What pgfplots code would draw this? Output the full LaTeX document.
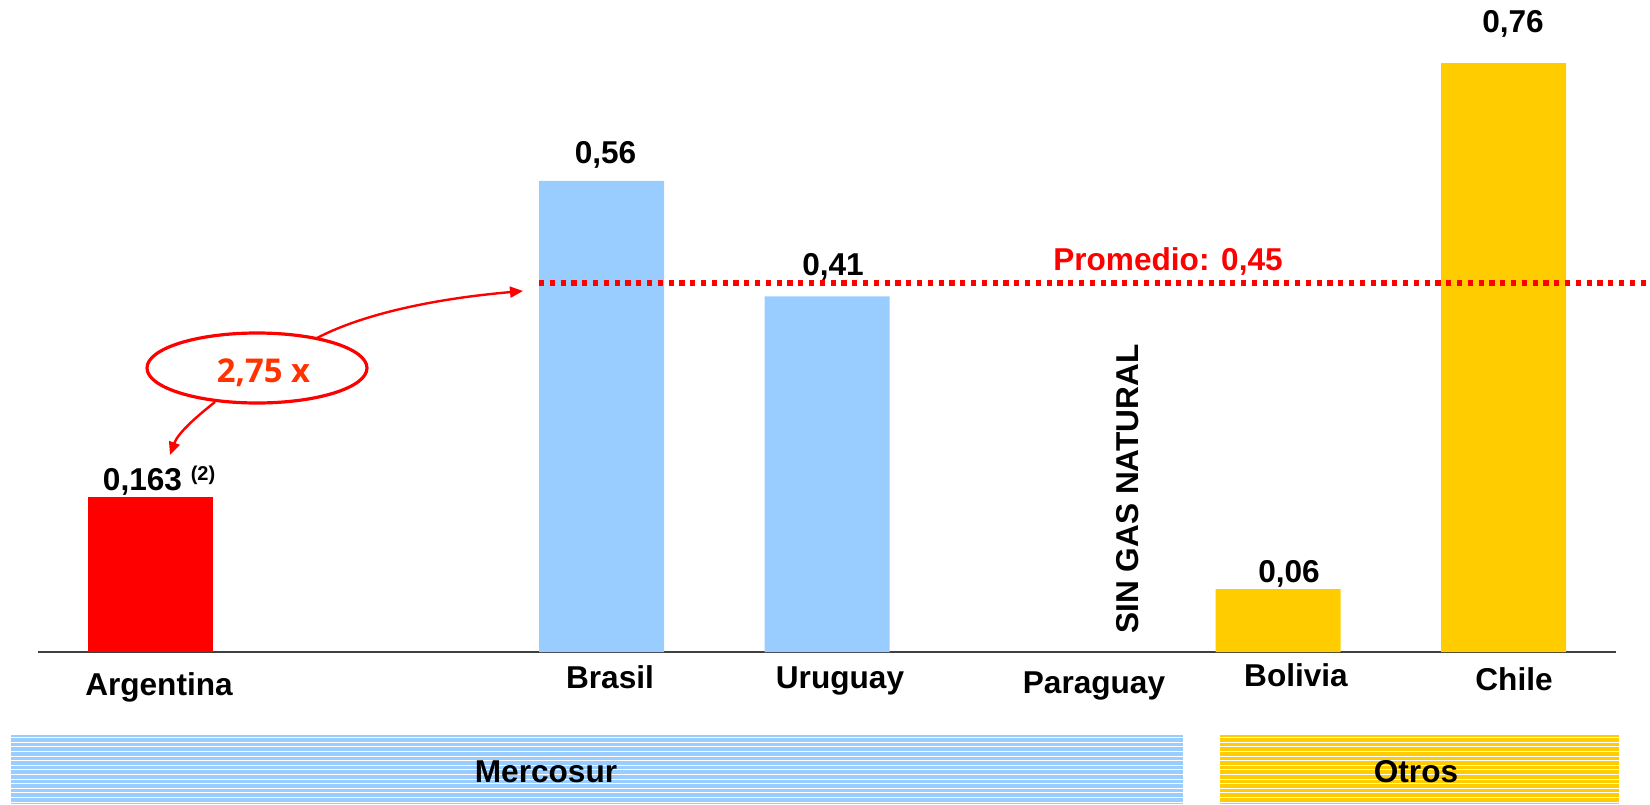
\documentclass[border=0pt]{standalone}
\usepackage{pgfplots}
\pgfplotsset{compat=1.18}
\usepackage{pgfplotstable}
\usepackage{fontspec}
\setmainfont{Liberation Sans}
\newfontfamily\callfont{Open Sans}
\usetikzlibrary{arrows.meta}
\definecolor{argred}{HTML}{FF0000}
\definecolor{mercoblue}{HTML}{99CCFF}
\definecolor{otrosyel}{HTML}{FFCC00}
\definecolor{callred}{HTML}{FF3300}
\newcommand\lbl{\bfseries\fontsize{15.8}{18}\selectfont}

% bar heights as drawn in the chart (labelled values: 0,163 / 0,56 / 0,41 / 0,06 / 0,76; promedio 0,45)
\pgfplotstableread{
x y
0 0.200
}\argtable
\pgfplotstableread{
x y
2 0.608
3 0.459
}\mercotable
\pgfplotstableread{
x y
5 0.081
6 0.760
}\otrostable

\begin{document}
\begin{tikzpicture}
\begin{axis}[
  scale only axis, width=789.25pt, height=326pt,
  xmin=-0.5, xmax=6.5, ymin=0, ymax=0.8413,
  enlargelimits=false, clip=false,
  axis x line*=bottom, axis y line=none,
  x axis line style={-, draw=black!75, line width=0.75pt},
  xtick={0.0377,2.0377,3.0576,4.184,5.0798,6.0466},
  xticklabels={{\raisebox{-2.5pt}{Argentina}},{\raisebox{1pt}{Brasil}},{\raisebox{1pt}{Uruguay}},{\raisebox{-1.5pt}{Paraguay}},{\raisebox{2pt}{Bolivia}},{Chile}},
  xtick style={draw=none}, major tick length=0pt,
  ytick=\empty,
  xticklabel style={font=\lbl, anchor=base, yshift=-19pt, inner sep=0pt},
]
\addplot[ybar, bar width=0.5543, fill=argred, draw=none] table[x=x,y=y]{\argtable};
\addplot[ybar, bar width=0.5543, fill=mercoblue, draw=none] table[x=x,y=y]{\mercotable};
\addplot[ybar, bar width=0.5543, fill=otrosyel, draw=none] table[x=x,y=y]{\otrostable};
\addplot[argred, line width=2.6pt, dash pattern=on 2.6pt off 2.8pt, forget plot] coordinates {(1.723,0.4761) (6.70,0.4761)};
\coordinate (TL) at (axis cs:-0.66741,0.8413);
\coordinate (BR) at (axis cs:6.6497,-0.19613);
\end{axis}
\begin{scope}[shift={(TL)}, x=0.5pt, y=-0.5pt]
  % value labels
  \node[font=\lbl, anchor=base, inner sep=0pt] at (142.5,490) {0,163};
  \node[font=\bfseries\fontsize{10}{12}\selectfont, anchor=base, inner sep=0pt] at (203,480) {(2)};
  \node[font=\lbl, anchor=base, inner sep=0pt] at (605.5,164) {0,56};
  \node[font=\lbl, anchor=base, inner sep=0pt] at (833,276) {0,41};
  \node[font=\lbl, anchor=base, inner sep=0pt] at (1289,582) {0,06};
  \node[font=\lbl, anchor=base, inner sep=0pt] at (1513,33) {0,76};
  \node[font=\lbl, text=argred, anchor=base, inner sep=0pt] at (1168,271) {Promedio: 0,45};
  \node[font=\lbl, rotate=90, anchor=base, inner sep=0pt] at (1138,489) {SIN GAS NATURAL};
  % callout
  \draw[argred, line width=1.6pt, fill=white] (257,368) ellipse [x radius=110, y radius=35];
  \node[font=\callfont\bfseries\fontsize{16.4}{18}\selectfont, text=callred, anchor=base, inner sep=0pt] at (263.5,382) {2,75 x};
  \draw[argred, line width=1.2pt, -{Triangle[length=6.5pt,width=5.5pt]}] (317,338) .. controls (355,318) and (420,300) .. (523,291);
  \draw[argred, line width=1.2pt, -{Triangle[length=6.5pt,width=5.5pt]}] (215,402) .. controls (196,417) and (178,433) .. (170,455);
  % group bands
  \fill[mercoblue] (11,735) rectangle (1183,804);
  \fill[otrosyel] (1220,735) rectangle (1619,804);
  \foreach \k in {0,...,14} {
    \draw[white, line width=0.5pt] (11,{737.6+\k*4.6}) -- (1183,{737.6+\k*4.6});
    \draw[white, line width=0.5pt] (1220,{737.6+\k*4.6}) -- (1619,{737.6+\k*4.6});
  }
  \node[font=\lbl, anchor=base, inner sep=0pt] at (546,782) {Mercosur};
  \node[font=\lbl, anchor=base, inner sep=0pt] at (1416,782) {Otros};
\end{scope}
\pgfresetboundingbox
\path[use as bounding box] (TL) rectangle (BR);
\end{tikzpicture}
\end{document}
